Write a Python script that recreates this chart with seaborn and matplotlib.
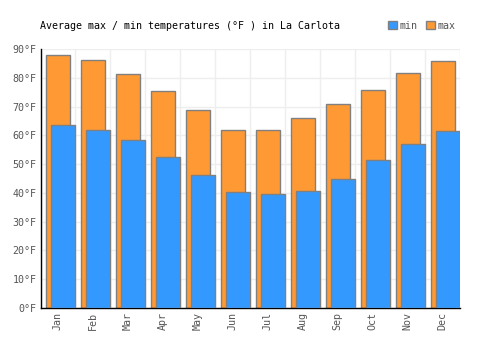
import matplotlib
matplotlib.use("Agg")
import matplotlib.pyplot as plt
import matplotlib.patches as mpatches
import seaborn as sns
import numpy as np
import pandas as pd

months = ["Jan", "Feb", "Mar", "Apr", "May", "Jun", "Jul", "Aug", "Sep", "Oct", "Nov", "Dec"]
max_temps = [88, 86.2, 81.2, 75.4, 68.8, 61.8, 61.8, 66, 70.8, 75.7, 81.6, 85.8]
min_temps = [63.5, 62, 58.4, 52.5, 46.2, 40.3, 39.6, 40.6, 44.8, 51.4, 57, 61.5]
y_ticks = [0, 10, 20, 30, 40, 50, 60, 70, 80, 90]

sns.set_theme(style="white")
plt.rcParams["font.family"] = ["DejaVu Sans Mono"]

orange = "#ff9933"
blue = "#3399ff"
edge = "#808080"
text_col = "#555555"
fs = 7.2

pos = np.arange(len(months))
df_max = pd.DataFrame({"x": pos.astype(float), "t": max_temps})
df_min = pd.DataFrame({"x": pos + 0.15, "t": min_temps})

fig = plt.figure(figsize=(5, 3.5), dpi=100)
ax = fig.add_axes([0.081, 0.12, 0.839, 0.74])

sns.barplot(data=df_max, x="x", y="t", native_scale=True, width=0.686,
            color=orange, saturation=1, edgecolor=edge, linewidth=1, ax=ax, zorder=2)
sns.barplot(data=df_min, x="x", y="t", native_scale=True, width=0.7,
            color=blue, saturation=1, edgecolor=edge, linewidth=1, ax=ax, zorder=3)

ax.set_xlim(-0.5, 11.5)
ax.set_ylim(0, 90)
ax.set_xticks(pos)
ax.set_xticklabels(months, rotation=90, color=text_col, fontsize=fs)
ax.set_yticks(y_ticks)
ax.set_yticklabels([f"{v}°F" for v in y_ticks], color=text_col, fontsize=fs)
ax.set_xticks(np.arange(-0.5, 12, 1), minor=True)
ax.grid(False)
ax.grid(True, which="minor", axis="x", color="#eeeeee", linewidth=1, zorder=0)
ax.grid(True, which="major", axis="y", color="#eeeeee", linewidth=1, zorder=0)
ax.set_axisbelow(True)
ax.tick_params(axis="both", which="both", length=0, pad=3)
ax.set_xlabel("")
ax.set_ylabel("")
for s in ["top", "right"]:
    ax.spines[s].set_visible(False)
for s in ["left", "bottom"]:
    ax.spines[s].set_color("black")
    ax.spines[s].set_linewidth(1)

fig.text(0.08, 0.927, "Average max / min temperatures (°F ) in La Carlota",
         fontsize=fs, color="black", va="center", ha="left")

handles = [mpatches.Patch(facecolor=blue, edgecolor=edge, label="min"),
           mpatches.Patch(facecolor=orange, edgecolor=edge, label="max")]
leg = fig.legend(handles=handles, loc="center right", bbox_to_anchor=(0.92, 0.927),
                 ncol=2, frameon=False, fontsize=fs, handlelength=0.9, handleheight=0.9,
                 handletextpad=0.2, columnspacing=0.9, borderpad=0)
for t in leg.get_texts():
    t.set_color(text_col)

fig.savefig("out.png", dpi=100)
